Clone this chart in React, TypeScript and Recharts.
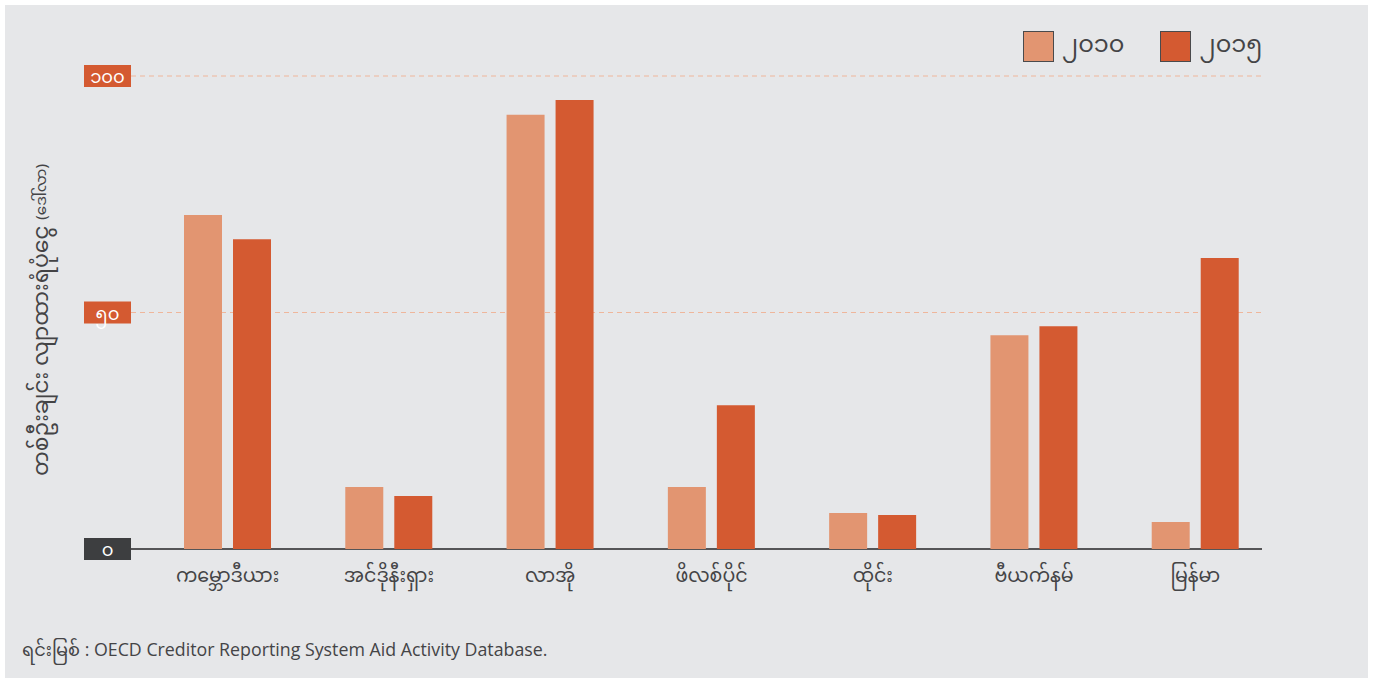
import { BarChart, Bar, XAxis, YAxis, CartesianGrid } from 'recharts';

const CATEGORIES = ['ကမ္ဘောဒီယား', 'အင်ဒိုနီးရှား', 'လာအို', 'ဖိလစ်ပိုင်', 'ထိုင်း', 'ဗီယက်နမ်', 'မြန်မာ'];
const VALUES_2010 = [70.6, 13.1, 91.8, 13.1, 7.6, 45.2, 5.7];
const VALUES_2015 = [65.5, 11.2, 94.9, 30.4, 7.2, 47.1, 61.5];
const Y_TICKS = [0, 50, 100];
const Y_TICK_LABELS = ['၀', '၅၀', '၁၀၀'];

const SERIES = [
  { key: 'y2010', label: '၂၀၁၀', color: '#e29571' },
  { key: 'y2015', label: '၂၀၁၅', color: '#d45a31' },
];

const MM_FONT = '"Noto Sans Myanmar", Padauk, "Myanmar Text", "Noto Sans", sans-serif';
const TEXT = '#444446';

const CHART_W = 1363;
const CHART_H = 620;
const MARGIN = { top: 71, right: 92, bottom: 0, left: 78 };
const Y_AXIS_W = 64;
const X_AXIS_H = 76;
const PLOT_LEFT = MARGIN.left + Y_AXIS_W;
const PLOT_BOTTOM = CHART_H - MARGIN.bottom - X_AXIS_H;

const data = CATEGORIES.map((name, i) => ({
  name,
  y2010: VALUES_2010[i],
  y2015: VALUES_2015[i],
}));

function GridLine(props: any) {
  const { x1, x2, y1 } = props;
  const isBase = Math.abs(y1 - PLOT_BOTTOM) < 1;
  return (
    <line
      x1={x1 - 16}
      x2={x2 - 14}
      y1={y1}
      y2={y1}
      stroke={isBase ? '#555557' : '#efb69b'}
      strokeWidth={isBase ? 2 : 1}
      strokeDasharray={isBase ? undefined : '5 4'}
    />
  );
}

function YTick(props: any) {
  const { y, payload } = props;
  const idx = Y_TICKS.indexOf(payload.value);
  const right = PLOT_LEFT - 16;
  const w = 47;
  const h = 22;
  return (
    <g>
      <rect x={right - w} y={y - h / 2} width={w} height={h} fill={payload.value === 0 ? '#3d3e40' : '#d45a31'} />
      <text x={right - w / 2} y={y + 7} textAnchor="middle" fill="#fff" fontSize={18} fontFamily={MM_FONT}>
        {Y_TICK_LABELS[idx]}
      </text>
    </g>
  );
}

function XTick(props: any) {
  const { x, y, payload } = props;
  return (
    <text x={x} y={y + 25} textAnchor="middle" fill={TEXT} fontSize={19} fontFamily={MM_FONT}>
      {payload.value}
    </text>
  );
}

function YLabel() {
  const cx = 37;
  const cy = 315;
  return (
    <text transform={`translate(${cx}, ${cy}) rotate(-90)`} textAnchor="middle" fill={TEXT} fontFamily={MM_FONT} dominantBaseline="middle">
      <tspan fontSize={22}>တစ်ဦးချင်း လျာထားရံပုံငွေ </tspan>
      <tspan fontSize={15}>(ဒေါ်လာ)</tspan>
    </text>
  );
}

export default function App() {
  return (
    <div
      style={{
        position: 'absolute',
        left: 5,
        top: 5,
        width: CHART_W,
        height: 690,
        background: '#e6e7e9',
        fontFamily: MM_FONT,
      }}
    >
      <div style={{ position: 'absolute', left: 1018, top: 26, display: 'flex', alignItems: 'center' }}>
        {SERIES.map((s) => (
          <div key={s.key} style={{ display: 'flex', alignItems: 'center', marginRight: 36 }}>
            <div style={{ width: 29, height: 29, background: s.color, border: '1px solid #4a4a4c' }} />
            <span style={{ marginLeft: 8, fontSize: 24, color: TEXT, lineHeight: '31px' }}>{s.label}</span>
          </div>
        ))}
      </div>
      <BarChart width={CHART_W} height={CHART_H} data={data} margin={MARGIN} barGap={11} barSize={38}>
        <CartesianGrid vertical={false} horizontal={(p: any) => <GridLine key={p.key} {...p} />} />
        <XAxis dataKey="name" height={X_AXIS_H} axisLine={false} tickLine={false} tick={<XTick />} interval={0} />
        <YAxis
          width={Y_AXIS_W}
          domain={[0, 100]}
          ticks={Y_TICKS}
          axisLine={false}
          tickLine={false}
          tick={<YTick />}
          label={{ content: <YLabel /> }}
        />
        {SERIES.map((s) => (
          <Bar key={s.key} dataKey={s.key} fill={s.color} isAnimationActive={false} />
        ))}
      </BarChart>
      <div style={{ position: 'absolute', left: 17, top: 627, fontSize: 17.8, color: TEXT, fontFamily: '"Open Sans", ' + MM_FONT }}>
        ရင်းမြစ် : OECD Creditor Reporting System Aid Activity Database.
      </div>
    </div>
  );
}
